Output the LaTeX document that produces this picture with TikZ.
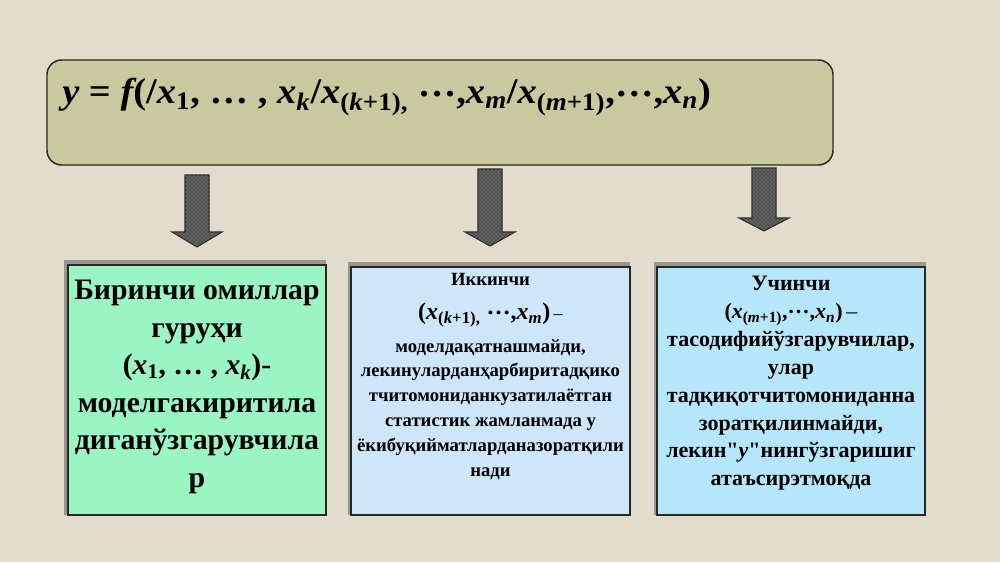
\documentclass[tikz,border=0pt]{standalone}
\usepackage{fontspec}
\setmainfont{Liberation Serif}
\newfontfamily\rawserif{Liberation Serif}
\usetikzlibrary{calc,patterns}
\definecolor{bg}{RGB}{226,220,204}
\definecolor{topfill}{RGB}{201,201,160}
\definecolor{darkline}{RGB}{40,40,32}
\definecolor{mint}{RGB}{155,245,195}
\definecolor{paleblue}{RGB}{205,230,250}
\definecolor{skyblue}{RGB}{182,230,250}
\definecolor{shadowgray}{RGB}{152,150,146}
\definecolor{arrowgray}{RGB}{80,80,80}
\tikzset{
  topbox/.style={draw=darkline, line width=1.1pt, fill=topfill, rounded corners=11pt,
    minimum width=589.5pt, minimum height=78.75pt, inner sep=0pt},
  groupbox/.style={draw=darkline, line width=0.8pt, inner sep=0pt},
  shadowbox/.style={fill=shadowgray, draw=none, inner sep=0pt},
  boxtext/.style={align=center, inner sep=0pt, anchor=north},
  blockarrow/.style={draw=darkline, line width=0.8pt, fill=arrowgray, line join=miter,
    postaction={pattern=crosshatch dots, pattern color=gray!75}}
}
% formula pieces in bold italic text
\newcommand\V[1]{{\bfseries\itshape #1}}
\newcommand\Sb[1]{\textsubscript{\bfseries #1}}
\newcommand\Cd{\raisebox{0.22em}{…}}
\newcommand\Q{{\rawserif\bfseries"}}
\newcommand\TopFormula{\V{y} = \V{f}(/\V{x}\Sb{1}, … , \V{x}\Sb{\itshape k}/\V{x}\Sb{(\itshape k\upshape+1),} \Cd,\V{x}\Sb{\itshape m}/\V{x}\Sb{(\itshape m\upshape+1)},\Cd,\V{x}\Sb{\itshape n})}
\newcommand\FormA{(\V{x}\Sb{1}, … , \V{x}\Sb{\itshape k})}
\newcommand\FormB{(\V{x}\Sb{(\itshape k\upshape+1),} \Cd,\V{x}\Sb{\itshape m})}
\newcommand\FormC{(\V{x}\Sb{(\itshape m\upshape+1)},\Cd,\V{x}\Sb{\itshape n})}
\newcommand\BlockArrow[3]{%
  \draw[blockarrow] let \p1=(#1), \p2=(#2) in
    (\x1-9pt,\y1) -- (\x1+9pt,\y1) -- (\x1+9pt,\y2+#3) -- (\x1+18.75pt,\y2+#3)
    -- (\x1,\y2) -- (\x1-18.75pt,\y2+#3) -- (\x1-9pt,\y2+#3) -- cycle;}
\begin{document}
\begin{tikzpicture}[x=0.75pt,y=-0.75pt]
\fill[bg] (0,0) rectangle (1000,562);
\useasboundingbox (0,0) rectangle (1000,562);

% top box with formula
\node[topbox] (top) at (440,112.5) {};
\node[anchor=west, inner sep=0pt, font={\bfseries\fontsize{27}{30}\selectfont}] (formula) at (62,97) {\scalebox{1.07}[1]{\TopFormula}};

% shadows and three group boxes
\node[shadowbox, minimum width=197pt, minimum height=191.25pt] (s1) at (195,387.5) {};
\node[shadowbox, minimum width=212pt, minimum height=189.75pt] (s2) at (489,388.5) {};
\node[shadowbox, minimum width=204pt, minimum height=189.75pt] (s3) at (789.5,388.5) {};
\node[groupbox, fill=mint, minimum width=193.5pt, minimum height=187.5pt] (b1) at (197,390) {};
\node[groupbox, fill=paleblue, minimum width=209.25pt, minimum height=186pt] (b2) at (490.5,391) {};
\node[groupbox, fill=skyblue, minimum width=201pt, minimum height=186pt] (b3) at (791,391) {};

% arrows
\coordinate (a1s) at (197,175);  \coordinate (a1e) at (197,247);
\coordinate (a2s) at (490,169);  \coordinate (a2e) at (490,246);
\coordinate (a3s) at (764,168);  \coordinate (a3e) at (764,231);
\BlockArrow{a1s}{a1e}{11.25pt}
\BlockArrow{a2s}{a2e}{10.5pt}
\BlockArrow{a3s}{a3e}{9.75pt}

% texts
\node[boxtext, font={\bfseries\fontsize{22.3}{28.1}\selectfont}] (t1) at (197,280)
  {Биринчи омиллар\\ гуруҳи\\ \FormA-\\ моделгакиритила\\ диганўзгарувчила\\ р};
\node[boxtext, font={\bfseries\fontsize{14}{18.7}\selectfont}] (t2) at (490.5,273)
  {Иккинчи\\[7pt] {\fontsize{18}{21}\selectfont\FormB}\,{\mdseries –}\\[5.5pt] моделдақатнашмайди,\\ лекинуларданҳарбиритадқико\\ тчитомониданкузатилаётган\\ статистик жамланмада у\\ ёкибуқийматларданазоратқили\\ нади};
\node[boxtext, font={\bfseries\fontsize{16.5}{20.9}\selectfont}] (t3) at (791,276)
  {Учинчи\\ \FormC\,{\mdseries –}\\ тасодифийўзгарувчилар,\\ улар\\ тадқиқотчитомониданна\\ зоратқилинмайди,\\ лекин\Q\V{y}\Q нингўзгаришиг\\ атаъсирэтмоқда};
\end{tikzpicture}
\end{document}
